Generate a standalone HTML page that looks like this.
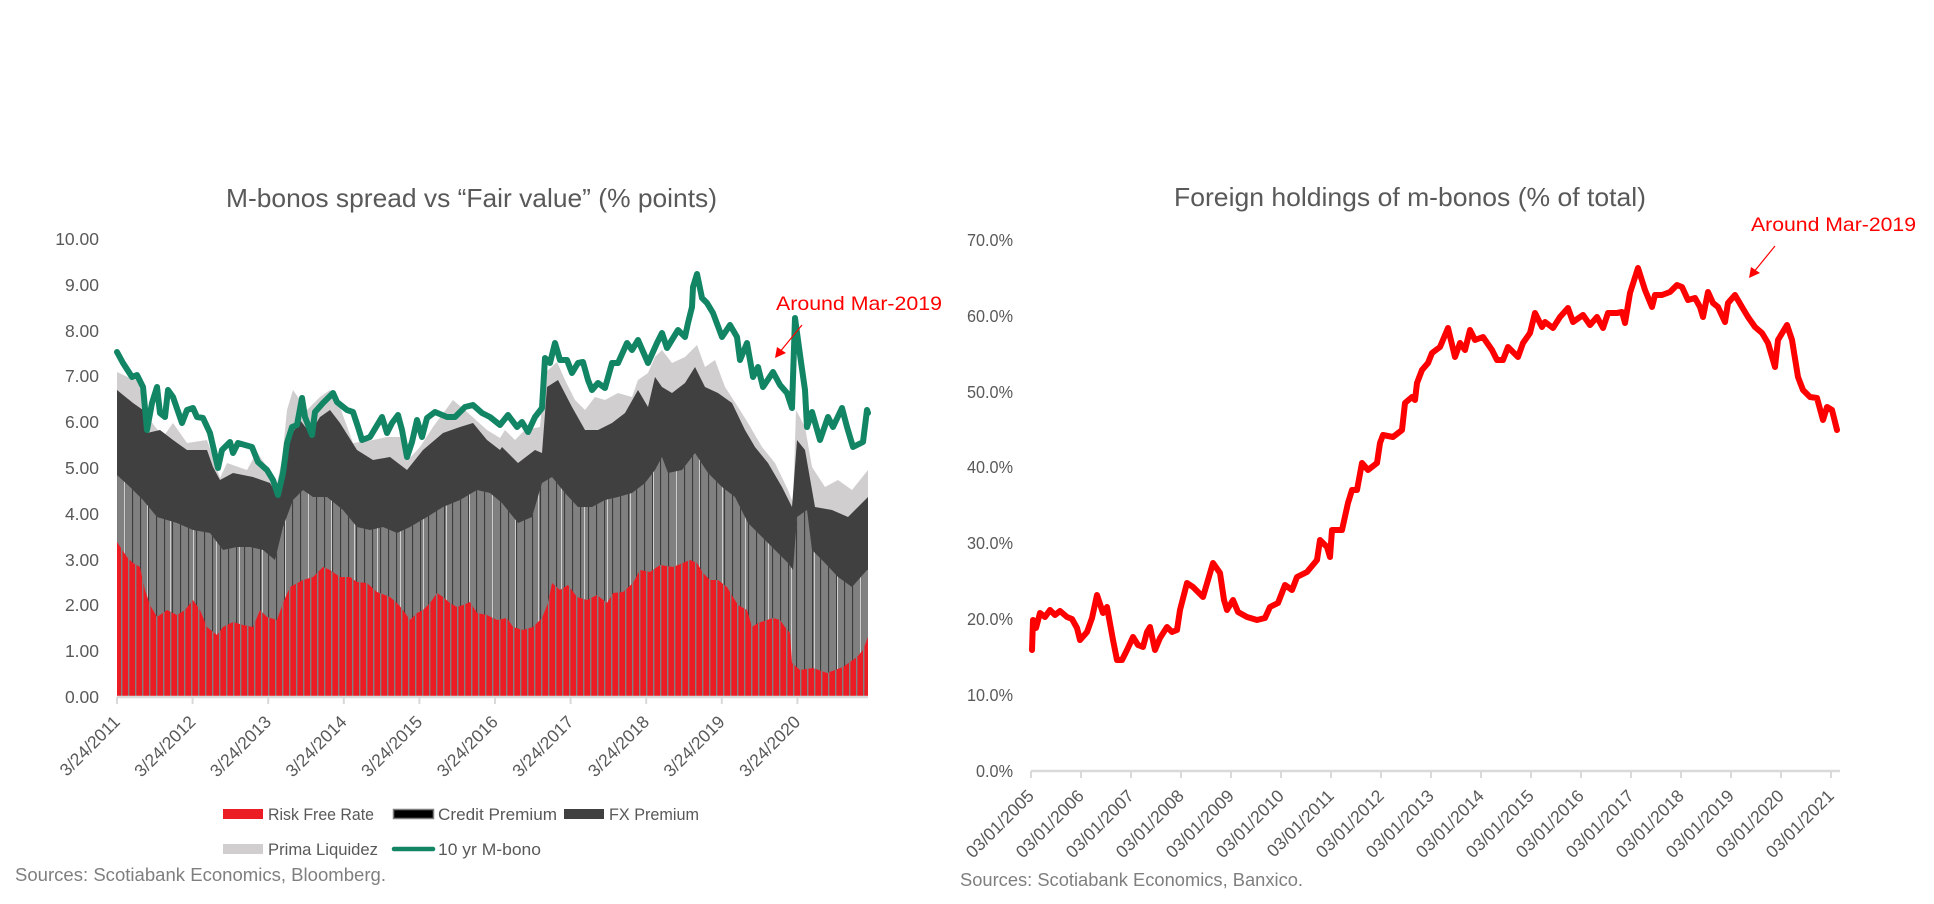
<!DOCTYPE html>
<html>
<head>
<meta charset="utf-8">
<style>
html,body{margin:0;padding:0;background:#fff;width:1934px;height:904px;overflow:hidden}
svg{display:block}
text{font-family:"Liberation Sans",Arial,sans-serif}
</style>
</head>
<body>
<svg width="1934" height="904" viewBox="0 0 1934 904" xmlns="http://www.w3.org/2000/svg">
<defs>
  <pattern id="rs" x="2" y="0" width="7" height="10" patternUnits="userSpaceOnUse">
    <rect x="0" y="0" width="1.4" height="10" fill="#808080"/>
  </pattern>
  <pattern id="ms" x="4" y="0" width="8" height="10" patternUnits="userSpaceOnUse">
    <rect x="0" y="0" width="1.1" height="10" fill="#3c3c3c"/>
  </pattern>
  <pattern id="ws" x="9" y="0" width="23" height="10" patternUnits="userSpaceOnUse">
    <rect x="0" y="0" width="1" height="10" fill="#cfcfcf"/>
  </pattern>
  <clipPath id="cm">
    <polygon points="117,475 130,487 143,500 157,517 177,523 193,530 210,533 223,550 237,547 250,547 263,550 275,560 283,527 293,500 303,490 313,497 327,497 343,510 357,527 370,530 383,527 397,533 410,527 427,517 443,507 460,500 477,490 490,493 502,503 518,523 532,517 542,483 552,477 565,493 578,507 592,507 605,500 618,497 632,493 645,483 655,470 662,457 668,473 682,470 695,453 708,473 722,487 735,497 748,523 762,537 775,550 788,563 793,570 797,517 807,510 812,550 825,563 838,577 852,587 867,570 868,570 868,697 117,697"/>
  </clipPath>
  <clipPath id="cr">
    <polygon points="117,542 127,557 133,563 140,567 145,590 150,605 157,617 167,610 177,615 185,610 193,600 200,610 207,627 217,635 223,627 233,622 243,625 253,627 260,610 267,617 277,620 283,603 290,587 303,580 313,577 323,567 330,570 340,577 350,577 357,582 367,583 377,592 390,597 397,603 403,610 410,620 417,613 423,610 430,603 437,593 443,597 450,603 457,607 463,605 470,602 477,613 487,615 497,620 507,618 513,627 523,630 533,627 542,618 548,603 552,583 560,590 568,585 577,597 587,600 597,595 607,603 613,593 623,592 633,583 640,570 650,572 660,565 673,567 683,563 690,560 697,563 703,573 710,580 718,580 727,587 733,597 738,605 747,610 752,627 758,623 767,620 773,618 780,620 785,627 790,633 792,663 800,670 813,668 827,673 843,667 857,657 863,650 868,637 868,697 117,697"/>
  </clipPath>
</defs>

<rect width="1934" height="904" fill="#fff"/>

<!-- ============ LEFT CHART ============ -->
<text x="226" y="207" font-size="26" fill="#595959" textLength="491" lengthAdjust="spacingAndGlyphs">M-bonos spread vs “Fair value” (% points)</text>

<g font-size="17.5" fill="#595959" text-anchor="end">
  <text x="99" y="245">10.00</text>
  <text x="99" y="291">9.00</text>
  <text x="99" y="337">8.00</text>
  <text x="99" y="382">7.00</text>
  <text x="99" y="428">6.00</text>
  <text x="99" y="474">5.00</text>
  <text x="99" y="520">4.00</text>
  <text x="99" y="566">3.00</text>
  <text x="99" y="611">2.00</text>
  <text x="99" y="657">1.00</text>
  <text x="99" y="703">0.00</text>
</g>

<polygon fill="#d0cece" points="117,372 130,378 138,380 143,403 150,420 163,437 173,423 187,443 207,440 213,457 220,478 227,463 247,470 257,452 267,467 273,477 277,483 282,460 287,410 293,390 307,410 320,397 330,390 340,407 353,443 373,440 387,437 400,437 408,460 420,447 433,427 453,400 467,412 487,430 500,438 505,430 515,440 525,430 540,427 545,373 557,362 565,380 575,400 585,410 595,397 605,400 618,393 632,397 638,380 648,373 655,357 662,350 672,363 685,357 697,345 705,367 715,360 725,387 738,407 748,423 762,447 775,463 788,490 793,503 796,410 805,427 812,467 825,487 838,480 852,490 868,470 868,697 117,697"/>

<polygon fill="#404040" points="117,390 133,403 143,410 147,433 160,430 173,440 187,450 207,450 213,467 220,480 233,473 253,477 270,483 278,497 283,470 287,443 300,420 310,433 320,417 330,410 340,423 357,450 373,460 390,457 407,470 423,450 443,433 460,427 473,423 487,440 500,450 502,447 518,463 535,450 542,453 547,387 558,380 572,407 585,430 598,430 612,423 625,413 638,390 648,407 655,377 662,387 672,393 685,383 695,367 705,387 718,393 732,403 745,430 755,447 768,463 782,487 792,507 797,440 805,450 815,507 832,510 848,517 868,497 868,697 117,697"/>

<polygon fill="#808080" points="117,475 130,487 143,500 157,517 177,523 193,530 210,533 223,550 237,547 250,547 263,550 275,560 283,527 293,500 303,490 313,497 327,497 343,510 357,527 370,530 383,527 397,533 410,527 427,517 443,507 460,500 477,490 490,493 502,503 518,523 532,517 542,483 552,477 565,493 578,507 592,507 605,500 618,497 632,493 645,483 655,470 662,457 668,473 682,470 695,453 708,473 722,487 735,497 748,523 762,537 775,550 788,563 793,570 797,517 807,510 812,550 825,563 838,577 852,587 867,570 868,570 868,697 117,697"/>
<rect x="117" y="440" width="751" height="257" fill="url(#ms)" clip-path="url(#cm)"/>
<rect x="117" y="440" width="751" height="257" fill="url(#ws)" clip-path="url(#cm)"/>

<polygon fill="#ec1c24" points="117,542 127,557 133,563 140,567 145,590 150,605 157,617 167,610 177,615 185,610 193,600 200,610 207,627 217,635 223,627 233,622 243,625 253,627 260,610 267,617 277,620 283,603 290,587 303,580 313,577 323,567 330,570 340,577 350,577 357,582 367,583 377,592 390,597 397,603 403,610 410,620 417,613 423,610 430,603 437,593 443,597 450,603 457,607 463,605 470,602 477,613 487,615 497,620 507,618 513,627 523,630 533,627 542,618 548,603 552,583 560,590 568,585 577,597 587,600 597,595 607,603 613,593 623,592 633,583 640,570 650,572 660,565 673,567 683,563 690,560 697,563 703,573 710,580 718,580 727,587 733,597 738,605 747,610 752,627 758,623 767,620 773,618 780,620 785,627 790,633 792,663 800,670 813,668 827,673 843,667 857,657 863,650 868,637 868,697 117,697"/>
<rect x="117" y="530" width="751" height="167" fill="url(#rs)" clip-path="url(#cr)"/>

<polyline fill="none" stroke="#128564" stroke-width="6" stroke-linejoin="round" stroke-linecap="round" points="117,352 123,363 132,377 137,375 143,387 147,430 152,403 157,387 160,413 165,417 168,390 173,397 182,423 187,410 193,408 197,417 203,418 210,433 218,468 222,450 230,442 233,453 238,443 245,445 252,447 258,462 267,470 273,480 278,495 283,473 287,443 292,427 297,425 302,398 305,417 312,435 315,412 323,403 333,393 337,402 347,410 353,412 358,427 362,440 370,437 382,417 387,433 392,423 398,415 402,430 407,457 412,442 417,420 422,437 427,418 435,412 447,417 455,417 465,407 473,405 482,413 490,417 500,425 508,415 517,427 522,422 528,432 535,417 542,408 545,358 550,363 555,343 560,360 567,360 572,373 578,363 583,362 588,380 592,390 598,383 605,388 612,363 618,363 627,343 632,350 638,340 648,363 657,343 662,333 667,348 678,330 685,337 688,323 692,307 693,287 697,274 702,298 707,303 713,313 722,337 730,325 737,337 740,360 747,343 753,377 758,367 763,387 773,372 780,385 787,393 792,408 795,318 798,340 801,362 805,390 807,427 812,412 820,440 828,417 833,427 842,408 847,427 853,447 863,442 867,410 868,413"/>

<line x1="117" y1="697" x2="868" y2="697" stroke="#d9d9d9" stroke-width="2.5"/>
<g stroke="#d9d9d9" stroke-width="2">
  <line x1="117" y1="697" x2="117" y2="704"/>
  <line x1="192.6" y1="697" x2="192.6" y2="704"/>
  <line x1="268.2" y1="697" x2="268.2" y2="704"/>
  <line x1="343.8" y1="697" x2="343.8" y2="704"/>
  <line x1="419.4" y1="697" x2="419.4" y2="704"/>
  <line x1="495" y1="697" x2="495" y2="704"/>
  <line x1="570.6" y1="697" x2="570.6" y2="704"/>
  <line x1="646.2" y1="697" x2="646.2" y2="704"/>
  <line x1="721.8" y1="697" x2="721.8" y2="704"/>
  <line x1="797.4" y1="697" x2="797.4" y2="704"/>
</g>
<g font-size="17.5" fill="#595959" text-anchor="end">
  <text transform="translate(121,723) rotate(-45)">3/24/2011</text>
  <text transform="translate(196.6,723) rotate(-45)">3/24/2012</text>
  <text transform="translate(272.2,723) rotate(-45)">3/24/2013</text>
  <text transform="translate(347.8,723) rotate(-45)">3/24/2014</text>
  <text transform="translate(423.4,723) rotate(-45)">3/24/2015</text>
  <text transform="translate(499,723) rotate(-45)">3/24/2016</text>
  <text transform="translate(574.6,723) rotate(-45)">3/24/2017</text>
  <text transform="translate(650.2,723) rotate(-45)">3/24/2018</text>
  <text transform="translate(725.8,723) rotate(-45)">3/24/2019</text>
  <text transform="translate(801.4,723) rotate(-45)">3/24/2020</text>
</g>

<text x="776" y="310" font-size="19.5" fill="#ff0000" textLength="166" lengthAdjust="spacingAndGlyphs">Around Mar-2019</text>
<line x1="802" y1="325" x2="779" y2="353" stroke="#ff0000" stroke-width="1.2"/>
<polygon points="775,358 777,347 786,353" fill="#ff0000"/>

<rect x="223" y="809" width="40" height="10" fill="#ec1c24"/>
<text x="268" y="820" font-size="16.5" fill="#595959" textLength="106" lengthAdjust="spacingAndGlyphs">Risk Free Rate</text>
<rect x="393.5" y="809.5" width="40" height="9" fill="#000" stroke="#7f7f7f" stroke-width="1.5"/>
<text x="438" y="820" font-size="16.5" fill="#595959" textLength="119" lengthAdjust="spacingAndGlyphs">Credit Premium</text>
<rect x="564" y="809" width="40" height="10" fill="#404040"/>
<text x="609" y="820" font-size="16.5" fill="#595959" textLength="90" lengthAdjust="spacingAndGlyphs">FX Premium</text>
<rect x="223" y="844" width="40" height="10" fill="#d0cece"/>
<text x="268" y="855" font-size="16.5" fill="#595959" textLength="110" lengthAdjust="spacingAndGlyphs">Prima Liquidez</text>
<line x1="394" y1="849" x2="433" y2="849" stroke="#128564" stroke-width="4.5" stroke-linecap="round"/>
<text x="438" y="855" font-size="16.5" fill="#595959" textLength="103" lengthAdjust="spacingAndGlyphs">10 yr M-bono</text>

<text x="15" y="881" font-size="18" fill="#7f7f7f" textLength="371" lengthAdjust="spacingAndGlyphs">Sources: Scotiabank Economics, Bloomberg.</text>

<!-- ============ RIGHT CHART ============ -->
<text x="1174" y="206" font-size="26" fill="#595959" textLength="472" lengthAdjust="spacingAndGlyphs">Foreign holdings of m-bonos (% of total)</text>

<g font-size="17.5" fill="#595959" text-anchor="end">
  <text x="1013" y="246" textLength="46" lengthAdjust="spacingAndGlyphs">70.0%</text>
  <text x="1013" y="322" textLength="46" lengthAdjust="spacingAndGlyphs">60.0%</text>
  <text x="1013" y="398" textLength="46" lengthAdjust="spacingAndGlyphs">50.0%</text>
  <text x="1013" y="473" textLength="46" lengthAdjust="spacingAndGlyphs">40.0%</text>
  <text x="1013" y="549" textLength="46" lengthAdjust="spacingAndGlyphs">30.0%</text>
  <text x="1013" y="625" textLength="46" lengthAdjust="spacingAndGlyphs">20.0%</text>
  <text x="1013" y="701" textLength="46" lengthAdjust="spacingAndGlyphs">10.0%</text>
  <text x="1013" y="777" textLength="37" lengthAdjust="spacingAndGlyphs">0.0%</text>
</g>

<polyline fill="none" stroke="#ff0000" stroke-width="6" stroke-linejoin="round" stroke-linecap="round" points="1032,650 1033,620 1036,628 1040,613 1045,617 1050,610 1055,615 1060,611 1067,617 1072,619 1077,628 1080,640 1087,632 1092,618 1097,595 1103,613 1107,607 1113,640 1117,660 1122,660 1127,650 1133,637 1138,645 1143,647 1147,632 1150,627 1155,650 1160,638 1167,627 1172,632 1177,630 1180,610 1187,583 1193,587 1198,592 1203,597 1208,580 1213,563 1220,573 1224,600 1227,610 1233,600 1238,612 1247,617 1257,620 1265,618 1270,607 1278,603 1285,585 1292,590 1297,577 1307,572 1317,560 1320,540 1327,547 1330,557 1332,530 1342,530 1348,503 1352,490 1357,490 1362,463 1368,470 1377,463 1380,443 1383,435 1393,437 1402,430 1405,403 1412,397 1415,400 1417,383 1422,370 1428,363 1432,353 1440,347 1448,328 1455,357 1460,343 1465,350 1470,330 1475,340 1483,337 1492,350 1497,360 1503,360 1508,347 1518,357 1523,343 1530,333 1535,313 1542,327 1545,322 1553,328 1560,317 1568,308 1573,322 1583,315 1590,325 1597,317 1603,328 1608,313 1617,313 1622,312 1625,323 1630,293 1638,268 1645,290 1652,307 1655,295 1662,295 1670,292 1677,285 1682,287 1688,300 1695,298 1700,307 1703,317 1708,292 1713,303 1718,307 1725,322 1728,303 1735,295 1742,307 1748,317 1755,327 1762,333 1768,343 1775,367 1778,340 1787,325 1792,340 1798,377 1803,390 1810,397 1817,398 1823,420 1827,407 1832,410 1837,430"/>

<line x1="1031" y1="771" x2="1840" y2="771" stroke="#d9d9d9" stroke-width="2.5"/>
<g stroke="#d9d9d9" stroke-width="2">
  <line x1="1031" y1="771" x2="1031" y2="778"/>
  <line x1="1081" y1="771" x2="1081" y2="778"/>
  <line x1="1131" y1="771" x2="1131" y2="778"/>
  <line x1="1181" y1="771" x2="1181" y2="778"/>
  <line x1="1231" y1="771" x2="1231" y2="778"/>
  <line x1="1281" y1="771" x2="1281" y2="778"/>
  <line x1="1331" y1="771" x2="1331" y2="778"/>
  <line x1="1381" y1="771" x2="1381" y2="778"/>
  <line x1="1431" y1="771" x2="1431" y2="778"/>
  <line x1="1481" y1="771" x2="1481" y2="778"/>
  <line x1="1531" y1="771" x2="1531" y2="778"/>
  <line x1="1581" y1="771" x2="1581" y2="778"/>
  <line x1="1631" y1="771" x2="1631" y2="778"/>
  <line x1="1681" y1="771" x2="1681" y2="778"/>
  <line x1="1731" y1="771" x2="1731" y2="778"/>
  <line x1="1781" y1="771" x2="1781" y2="778"/>
  <line x1="1831" y1="771" x2="1831" y2="778"/>
</g>
<g font-size="17.5" fill="#595959" text-anchor="end">
  <text transform="translate(1035,797) rotate(-45)">03/01/2005</text>
  <text transform="translate(1085,797) rotate(-45)">03/01/2006</text>
  <text transform="translate(1135,797) rotate(-45)">03/01/2007</text>
  <text transform="translate(1185,797) rotate(-45)">03/01/2008</text>
  <text transform="translate(1235,797) rotate(-45)">03/01/2009</text>
  <text transform="translate(1285,797) rotate(-45)">03/01/2010</text>
  <text transform="translate(1335,797) rotate(-45)">03/01/2011</text>
  <text transform="translate(1385,797) rotate(-45)">03/01/2012</text>
  <text transform="translate(1435,797) rotate(-45)">03/01/2013</text>
  <text transform="translate(1485,797) rotate(-45)">03/01/2014</text>
  <text transform="translate(1535,797) rotate(-45)">03/01/2015</text>
  <text transform="translate(1585,797) rotate(-45)">03/01/2016</text>
  <text transform="translate(1635,797) rotate(-45)">03/01/2017</text>
  <text transform="translate(1685,797) rotate(-45)">03/01/2018</text>
  <text transform="translate(1735,797) rotate(-45)">03/01/2019</text>
  <text transform="translate(1785,797) rotate(-45)">03/01/2020</text>
  <text transform="translate(1835,797) rotate(-45)">03/01/2021</text>
</g>

<text x="1751" y="231" font-size="19.5" fill="#ff0000" textLength="165" lengthAdjust="spacingAndGlyphs">Around Mar-2019</text>
<line x1="1775" y1="246" x2="1753" y2="273" stroke="#ff0000" stroke-width="1.2"/>
<polygon points="1749,278 1751,267 1760,273" fill="#ff0000"/>

<text x="960" y="886" font-size="18" fill="#7f7f7f" textLength="343" lengthAdjust="spacingAndGlyphs">Sources: Scotiabank Economics, Banxico.</text>
</svg>
</body>
</html>
